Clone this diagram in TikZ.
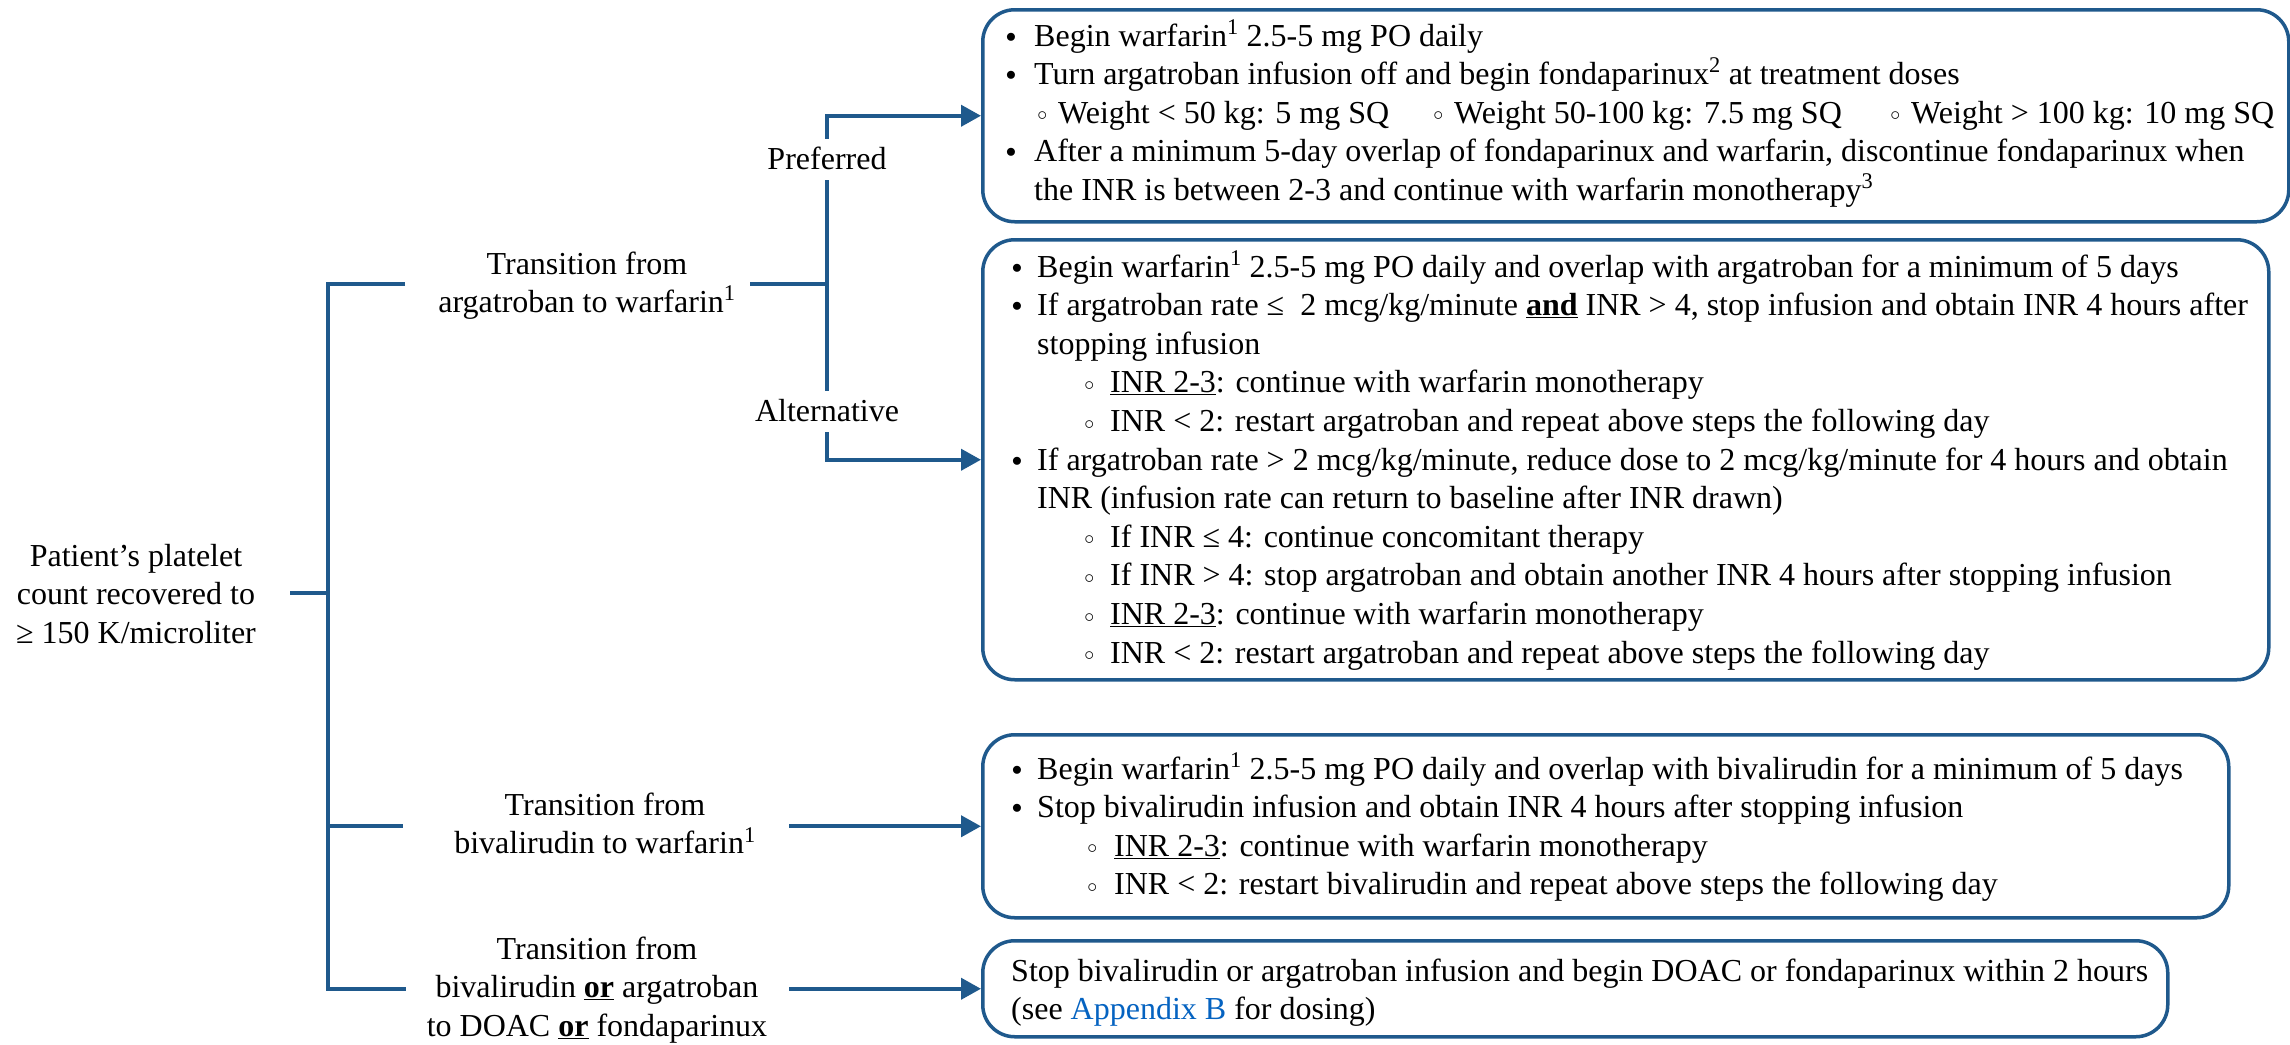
\RequirePackage{fix-cm}
\documentclass[tikz,border=0pt]{standalone}
\usepackage{graphicx}
\usepackage{fontspec}
\setmainfont{Liberation Serif}
\usetikzlibrary{arrows.meta}
\definecolor{lineblue}{RGB}{31,89,140}
\definecolor{linkblue}{HTML}{0563C1}
\newcommand\bulx[1]{\leavevmode\llap{\raisebox{4pt}{\scalebox{0.65}{$\bullet$}}\hspace*{#1}}}
\newcommand\subx[1]{\leavevmode\llap{\raisebox{2.3pt}{\scalebox{0.62}{$\circ$}}\hspace*{#1}}}
\begin{document}
\begin{tikzpicture}[x=1pt,y=-1pt,
  conn/.style={draw=lineblue,line width=4pt},
  arr/.style={conn,-{Triangle[length=20pt,width=21pt]}},
  box/.style={draw=lineblue,line width=3.5pt,rounded corners=32pt,inner sep=0pt,anchor=north west},
  txt/.style={inner sep=0pt,anchor=base west,font=\fontsize{32}{38.6}\selectfont},
  ctxt/.style={inner sep=0pt,anchor=base,font=\fontsize{32}{38.6}\selectfont},
  lbl/.style={anchor=base,font=\fontsize{32}{38.6}\selectfont,text height=21pt,text depth=2pt,inner xsep=2pt,inner ysep=9pt}
]
\fill[white] (0,0) rectangle (2290,1044);
\useasboundingbox (0,0) rectangle (2290,1044);

% boxes
\node[box,minimum width=1306pt,minimum height=212pt] (box1) at (981,8) {};
\node[box,minimum width=1286pt,minimum height=440pt] (box2) at (981,238) {};
\node[box,minimum width=1246pt,minimum height=183pt] (box3) at (981,733) {};
\node[box,minimum width=1185pt,minimum height=96pt] (box4) at (981,939) {};

% box texts
\node[txt] (t1) at (1034,46) {\parbox[t]{1300pt}{%
\bulx{18pt}Begin warfarin\textsuperscript{1} 2.5-5 mg PO daily\\
\bulx{18pt}Turn argatroban infusion off and begin fondaparinux\textsuperscript{2} at treatment doses\\
\leavevmode\hspace*{24pt}\rlap{\subx{11pt}Weight < 50 kg: 5 mg SQ}\hspace*{396pt}\rlap{\subx{11pt}Weight 50-100 kg: 7.5 mg SQ}\hspace*{457pt}\subx{11pt}Weight > 100 kg: 10 mg SQ\\
\bulx{18pt}After a minimum 5-day overlap of fondaparinux and warfarin, discontinue fondaparinux when\\
the INR is between 2-3 and continue with warfarin monotherapy\textsuperscript{3}}};

\node[txt] (t2) at (1037,277) {\parbox[t]{1300pt}{%
\bulx{15pt}Begin warfarin\textsuperscript{1} 2.5-5 mg PO daily and overlap with argatroban for a minimum of 5 days\\
\bulx{15pt}If argatroban rate ≤\ \ 2 mcg/kg/minute \underline{\textbf{and}} INR > 4, stop infusion and obtain INR 4 hours after\\
stopping infusion\\
\leavevmode\hspace*{73pt}\subx{16pt}\underline{INR 2-3}: continue with warfarin monotherapy\\
\leavevmode\hspace*{73pt}\subx{16pt}INR < 2: restart argatroban and repeat above steps the following day\\
\bulx{15pt}If argatroban rate > 2 mcg/kg/minute, reduce dose to 2 mcg/kg/minute for 4 hours and obtain\\
INR (infusion rate can return to baseline after INR drawn)\\
\leavevmode\hspace*{73pt}\subx{16pt}If INR ≤ 4: continue concomitant therapy\\
\leavevmode\hspace*{73pt}\subx{16pt}If INR > 4: stop argatroban and obtain another INR 4 hours after stopping infusion\\
\leavevmode\hspace*{73pt}\subx{16pt}\underline{INR 2-3}: continue with warfarin monotherapy\\
\leavevmode\hspace*{73pt}\subx{16pt}INR < 2: restart argatroban and repeat above steps the following day}};

\node[txt] (t3) at (1037,779) {\parbox[t]{1300pt}{%
\bulx{15pt}Begin warfarin\textsuperscript{1} 2.5-5 mg PO daily and overlap with bivalirudin for a minimum of 5 days\\
\bulx{15pt}Stop bivalirudin infusion and obtain INR 4 hours after stopping infusion\\
\leavevmode\hspace*{77pt}\subx{17pt}\underline{INR 2-3}: continue with warfarin monotherapy\\
\leavevmode\hspace*{77pt}\subx{17pt}INR < 2: restart bivalirudin and repeat above steps the following day}};

\node[txt] (t4) at (1011,981) {\parbox[t]{1300pt}{%
Stop bivalirudin or argatroban infusion and begin DOAC or fondaparinux within 2 hours\\
(see \textcolor{linkblue}{Appendix B} for dosing)}};

% left texts
\node[ctxt] (pat) at (136,566) {\parbox[t]{320pt}{\centering Patient’s platelet\\ count recovered to\\ ≥ 150 K/microliter}};
\node[ctxt] (arg) at (587,274) {\parbox[t]{420pt}{\centering Transition from\\ argatroban to warfarin\textsuperscript{1}}};
\node[ctxt] (biv) at (605,815) {\parbox[t]{420pt}{\centering Transition from\\ bivalirudin to warfarin\textsuperscript{1}}};
\node[ctxt] (doa) at (597,959) {\parbox[t]{420pt}{\centering Transition from\\ bivalirudin \underline{\textbf{or}} argatroban\\ to DOAC \underline{\textbf{or}} fondaparinux}};
\node[lbl] (pref) at (827,169) {Preferred};
\node[lbl] (alt) at (827,421) {Alternative};

% connector coordinates
\coordinate (tTop) at (328,284);
\coordinate (argL) at (405,284);
\coordinate (argR) at (750,284);
\coordinate (jArg) at (827,284);
\coordinate (patR) at (290,593);
\coordinate (xL1) at (403,0);
\coordinate (xL2) at (406,0);
\coordinate (xR) at (789,0);
\coordinate (bivL) at (xL1 |- box3.west);
\coordinate (bivR) at (xR |- box3.west);
\coordinate (doaL) at (xL2 |- box4.west);
\coordinate (doaR) at (xR |- box4.west);
\coordinate (tBot) at (tTop |- doaL);

\draw[conn] (argL) -- (tTop) -- (tBot) -- (doaL);
\draw[conn] (patR) -- (patR -| tTop);
\draw[conn] (bivL -| tTop) -- (bivL);
\draw[conn] (argR) -- (jArg);
\draw[conn] (pref.south) -- (alt.north);
\draw[arr] (pref.north) |- (box1.west);
\draw[arr] (alt.south) |- (box2.west);
\draw[arr] (bivR) -- (box3.west);
\draw[arr] (doaR) -- (box4.west);
\end{tikzpicture}
\end{document}
